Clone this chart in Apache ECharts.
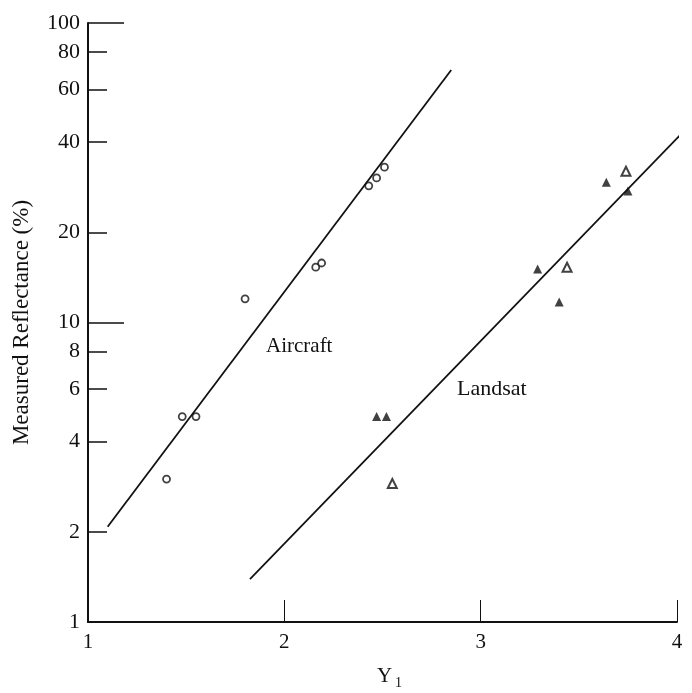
<!DOCTYPE html>
<html lang="en">
<head>
    <meta charset="UTF-8">
    <title>Measured Reflectance</title>
    <script src="https://cdn.jsdelivr.net/npm/echarts@6/dist/echarts.min.js"></script>
</head>
<body style="margin:0;background:#fff">
<div id="chart" style="width:692px;height:693px"></div>
<script type="text/javascript">
    // values (y in %, log axis)
    var aircraftX = [1.40, 1.48, 1.55, 1.80, 2.16, 2.19, 2.43, 2.47, 2.51];
    var aircraftY = [3.0, 4.85, 4.85, 12.0, 15.3, 15.8, 28.6, 30.4, 33.0];

    var landsatX = [2.47, 2.52, 3.29, 3.40, 3.64, 3.75];
    var landsatY = [4.85, 4.85, 15.1, 11.7, 29.4, 27.5];
    var landsatOpenX = [2.55, 3.44, 3.74];
    var landsatOpenY = [2.9, 15.3, 32.0];

    var aircraftFitX = [1.10, 2.85];
    var aircraftFitY = [2.08, 69.7];
    var landsatFitX = [1.825, 4.065];
    var landsatFitY = [1.39, 45.6];

    var yTicks = [1, 2, 4, 6, 8, 10, 20, 40, 60, 80, 100];
    var yMinorTicks = [2, 4, 6, 8, 20, 40, 60, 80];
    var yMajorTicks = [10, 100];
    var xTicks = [1, 2, 3, 4];

    var font = '"Liberation Serif", "DejaVu Serif", serif';

    function lg(v) {
        return Math.log10(v);
    }

    function pairs(xs, ys) {
        var out = [];
        for (var i = 0; i < xs.length; i++) {
            out.push([xs[i], lg(ys[i])]);
        }
        return out;
    }

    var myChart = echarts.init(document.getElementById('chart'));

    var option = {
        backgroundColor: '#fff',
        animation: false,
        grid: {left: 88, right: 15, top: 23, bottom: 71, outerBoundsMode: 'none'},
        xAxis: {
            type: 'value',
            min: 1,
            max: 4,
            interval: 1,
            name: '{y|Y}{s|1}',
            nameLocation: 'middle',
            nameGap: 40,
            nameTextStyle: {
                padding: [0, 0, 0, 14],
                rich: {
                    y: {fontFamily: font, fontSize: 21, color: '#111'},
                    s: {fontFamily: font, fontSize: 14, color: '#111', padding: [14, 0, 0, 3]}
                }
            },
            axisLine: {lineStyle: {color: '#111', width: 2}},
            axisTick: {inside: true, length: 22, customValues: xTicks, lineStyle: {color: '#111', width: 1}},
            axisLabel: {
                customValues: xTicks,
                margin: 10,
                fontFamily: font,
                fontSize: 21,
                color: '#111'
            },
            splitLine: {show: false}
        },
        yAxis: [{
            type: 'value',
            min: 0,
            max: 2,
            name: 'Measured Reflectance (%)',
            nameLocation: 'middle',
            nameGap: 55,
            nameTextStyle: {fontFamily: font, fontSize: 23, color: '#111'},
            axisLine: {lineStyle: {color: '#111', width: 2}},
            axisTick: {
                inside: true,
                length: 19,
                customValues: yMinorTicks.map(lg),
                lineStyle: {color: '#111', width: 1.5}
            },
            axisLabel: {
                customValues: yTicks.map(lg),
                margin: 8,
                fontFamily: font,
                fontSize: 22,
                color: '#111',
                formatter: function (v) {
                    return String(Math.round(Math.pow(10, v)));
                }
            },
            splitLine: {show: false}
        }, {
            type: 'value',
            position: 'left',
            min: 0,
            max: 2,
            axisLine: {show: false},
            axisTick: {
                show: true,
                inside: true,
                length: 36,
                customValues: yMajorTicks.map(lg),
                lineStyle: {color: '#111', width: 1.5}
            },
            axisLabel: {show: false},
            splitLine: {show: false}
        }],
        graphic: [
            {type: 'text', left: 266, top: 336, style: {text: 'Aircraft', font: '21px ' + font, fill: '#111'}},
            {type: 'text', left: 457, top: 378, style: {text: 'Landsat', font: '22px ' + font, fill: '#111'}}
        ],
        series: [
            {
                type: 'line',
                data: pairs(aircraftFitX, aircraftFitY),
                showSymbol: false,
                clip: false,
                lineStyle: {color: '#111', width: 1.8}
            },
            {
                type: 'line',
                data: pairs(landsatFitX, landsatFitY),
                showSymbol: false,
                clip: false,
                lineStyle: {color: '#111', width: 1.8}
            },
            {
                type: 'scatter',
                data: pairs(aircraftX, aircraftY),
                symbol: 'circle',
                symbolSize: 7,
                itemStyle: {color: '#fff', borderColor: '#111', borderWidth: 1.8}
            },
            {
                type: 'scatter',
                data: pairs(landsatX, landsatY),
                symbol: 'triangle',
                symbolSize: 9,
                itemStyle: {color: '#111'}
            },
            {
                type: 'scatter',
                data: pairs(landsatOpenX, landsatOpenY),
                symbol: 'triangle',
                symbolSize: 9,
                itemStyle: {color: '#fff', borderColor: '#111', borderWidth: 2}
            }
        ]
    };

    myChart.setOption(option);
</script>
</body>
</html>
